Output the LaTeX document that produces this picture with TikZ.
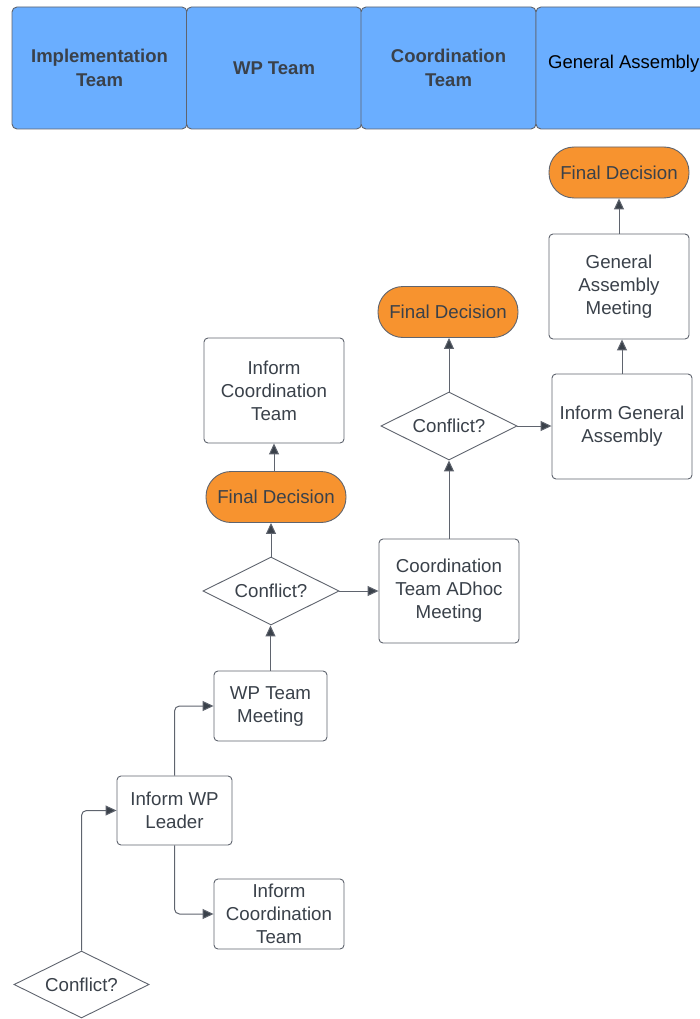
\documentclass[tikz,border=0pt]{standalone}
\usepackage{fontspec}
\setmainfont{Liberation Sans}
\usetikzlibrary{shapes.geometric,arrows.meta}
\definecolor{hdr}{RGB}{106,174,255}
\definecolor{orng}{RGB}{247,147,47}
\definecolor{txt}{RGB}{58,65,74}
\definecolor{ln}{RGB}{95,100,110}
\begin{document}
\begin{tikzpicture}[x=1pt,y=-1pt,
  lbl/.style={font=\fontsize{18.7}{23}\selectfont, text=txt, align=center},
  hbox/.style={draw=ln, line width=0.9pt, fill=hdr, rounded corners=5, minimum width=175, minimum height=122, inner sep=0, font=\fontsize{18.5}{24}\selectfont\bfseries, text=txt, align=center},
  pbox/.style={lbl, draw=ln, line width=0.9pt, fill=white, rounded corners=4, inner sep=0},
  pill/.style={lbl, draw=ln, line width=0.9pt, fill=orng, rounded corners=25, minimum width=140, minimum height=51, inner sep=0},
  dia/.style={lbl, draw=ln, line width=0.9pt, fill=white, diamond, aspect=2, inner sep=0, minimum width=136, minimum height=68},
  arr/.style={draw=ln, line width=1pt, -{Triangle[length=11pt,width=10pt,fill=txt]}, rounded corners=5}
]
\useasboundingbox (0,0) rectangle (700,1019);
% header
\node[hbox] (h1) at (99.5,68) {Implementation\\Team};
\node[hbox] (h2) at (274,68) {WP Team};
\node[hbox] (h3) at (448.5,68) {Coordination\\Team};
\node[hbox, minimum width=170] (h4) at (621,68) {};
\node[font=\fontsize{18.5}{24}\selectfont, text=black, anchor=west, inner sep=0] (h4t) at (548,64) {General Assembly};
% nodes
\node[pill] (fd3) at (619,172.5) {Final Decision};
\node[pbox, minimum width=140, minimum height=105] (gam) at (619,286.5) {General\\Assembly\\Meeting};
\node[pbox, minimum width=140, minimum height=105] (iga) at (622,426.5) {Inform General\\Assembly};
\node[pill] (fd2) at (448,312) {Final Decision};
\node[dia] (c3) at (449,426) {Conflict?};
\node[pbox, minimum width=140, minimum height=104] (adh) at (449,591) {Coordination\\Team ADhoc\\Meeting};
\node[pbox, minimum width=140, minimum height=105] (ict1) at (274,390.5) {Inform\\Coordination\\Team};
\node[pill] (fd1) at (276,497) {Final Decision};
\node[dia] (c2) at (271,591) {Conflict?};
\node[pbox, minimum width=113, minimum height=70] (wpm) at (270.5,706) {WP Team\\Meeting};
\node[pbox, minimum width=115, minimum height=69] (iwl) at (174.5,810.5) {Inform WP\\Leader};
\node[pbox, minimum width=130, minimum height=70] (ict2) at (279,914) {Inform\\Coordination\\Team};
\node[dia, minimum width=135, minimum height=67] (c1) at (81.5,984.5) {Conflict?};
% connectors
\draw[arr] (c1.north) |- (iwl.west);
\draw[arr] (iwl.north) |- (wpm.west);
\draw[arr] (iwl.south) |- (ict2.west);
\draw[arr] (wpm.north) -- (wpm.north |- c2.south);
\draw[arr] (c2.north) -- (c2.north |- fd1.south);
\draw[arr] (fd1.north -| ict1) -- (ict1.south);
\draw[arr] (c2.east) -- (c2.east -| adh.west);
\draw[arr] (adh.north) -- (adh.north |- c3.south);
\draw[arr] (c3.north) -- (c3.north |- fd2.south);
\draw[arr] (c3.east) -- (c3.east -| iga.west);
\draw[arr] (iga.north) -- (iga.north |- gam.south);
\draw[arr] (gam.north) -- (gam.north |- fd3.south);
\end{tikzpicture}
\end{document}
